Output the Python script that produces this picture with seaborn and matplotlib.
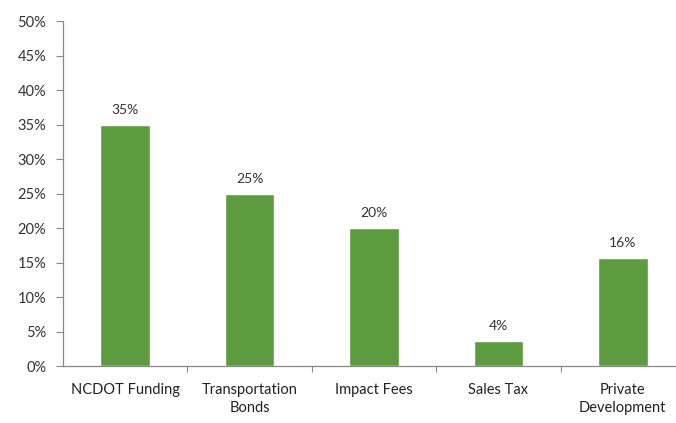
import matplotlib
matplotlib.use("Agg")
import matplotlib.pyplot as plt
import seaborn as sns
import pandas as pd
import numpy as np
from matplotlib.ticker import FixedLocator, PercentFormatter

categories = ["NCDOT Funding", "Transportation\nBonds", "Impact Fees", "Sales Tax", "Private\nDevelopment"]
values = [35, 25, 20, 3.6, 15.6]
value_labels = ["35%", "25%", "20%", "4%", "16%"]
yticks = [0, 5, 10, 15, 20, 25, 30, 35, 40, 45, 50]

sns.set_style("white")
plt.rcParams['font.family'] = ['Lato', 'DejaVu Sans']

df = pd.DataFrame({"cat": categories, "val": values})

fig = plt.figure(figsize=(6.76, 4.23), dpi=100)
ax = fig.add_axes([63/676, 57/423, 622/676, 345/423])
sns.barplot(data=df, x="cat", y="val", color="#5c9c3e", saturation=1, width=0.4, ax=ax)

for i, (v, lab) in enumerate(zip(values, value_labels)):
    ax.text(i, v + 1.3, lab, ha="center", va="bottom", fontsize=10, color="#333333")

ax.set_ylim(0, 50)
ax.set_xlim(-0.5, len(categories) - 0.5)
ax.set_yticks(yticks)
ax.yaxis.set_major_formatter(PercentFormatter(decimals=0))
ax.set_xlabel("")
ax.set_ylabel("")
ax.tick_params(axis="y", left=True, length=5, width=0.8, color="#888888", labelsize=10.5, labelcolor="#333333", pad=7)
ax.tick_params(axis="x", bottom=False, labelsize=10.5, labelcolor="#222222", pad=9)
for t in ax.get_xticklabels():
    t.set_linespacing(1.35)
ax.xaxis.set_minor_locator(FixedLocator(np.arange(0.5, len(categories) - 0.5, 1)))
ax.tick_params(axis="x", which="minor", bottom=True, length=4, width=0.8, color="#888888")
for s in ["top", "right"]:
    ax.spines[s].set_visible(False)
for s in ["left", "bottom"]:
    ax.spines[s].set_color("#888888")
    ax.spines[s].set_linewidth(0.9)

fig.savefig("out.png", dpi=100)
